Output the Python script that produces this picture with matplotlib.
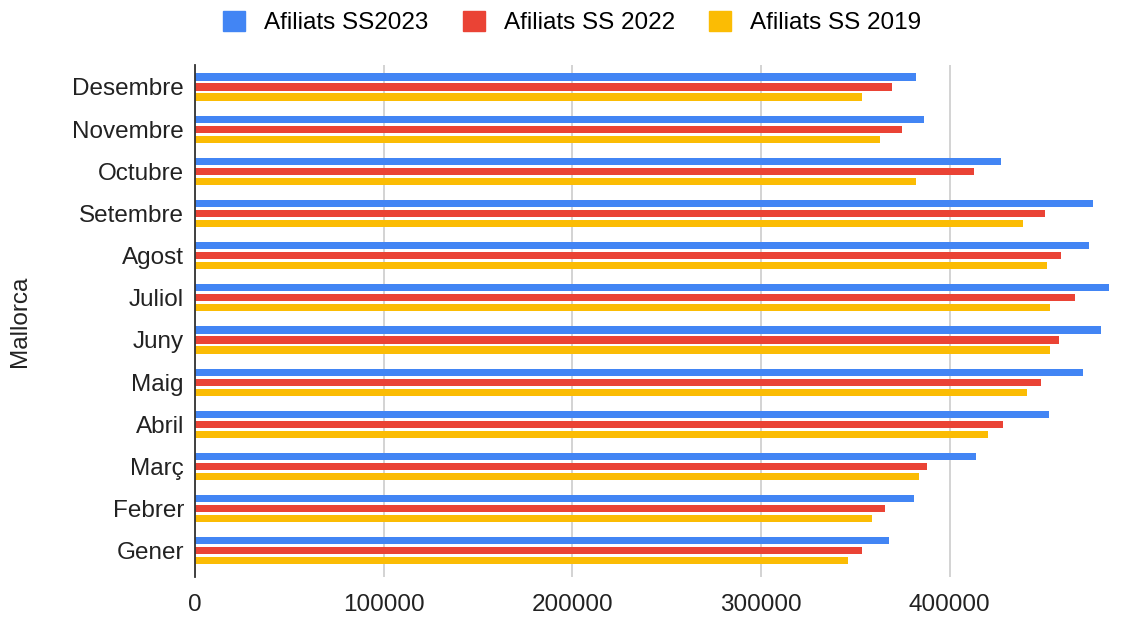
import numpy as np
import matplotlib
matplotlib.use('Agg')
import matplotlib.pyplot as plt
from matplotlib.patches import Patch

plt.rcParams['font.family'] = ['Liberation Sans', 'DejaVu Sans']

# dades (de Gener a Desembre)
mesos = ['Gener', 'Febrer', 'Març', 'Abril', 'Maig', 'Juny',
         'Juliol', 'Agost', 'Setembre', 'Octubre', 'Novembre', 'Desembre']
afiliats_2023 = [367700, 381300, 414200, 452500, 470600, 480400,
                 484500, 473800, 475900, 427000, 386600, 382400]
afiliats_2022 = [353300, 365600, 387800, 428100, 448300, 458000,
                 466400, 458800, 450300, 413000, 374700, 369200]
afiliats_2019 = [346000, 358800, 383600, 420500, 440900, 453400,
                 453400, 451400, 438700, 382400, 363000, 353300]

series = [
    ('Afiliats SS2023', afiliats_2023, '#4285F4'),
    ('Afiliats SS 2022', afiliats_2022, '#EA4335'),
    ('Afiliats SS 2019', afiliats_2019, '#FBBC04'),
]

fig = plt.figure(figsize=(11.31, 6.17), dpi=100)
ax = fig.add_axes([195 / 1131, 40 / 617, 915 / 1131, 512 / 617])

y = np.arange(len(mesos))
offsets = [0.237, 0, -0.237]
for (nom, vals, col), off in zip(series, offsets):
    ax.barh(y + off, vals, height=0.17, color=col, label=nom, zorder=3)

ax.set_ylim(-0.62, 11.52)
ax.set_xlim(0, 485000)
ax.set_xticks([0, 100000, 200000, 300000, 400000])
ax.set_yticks(y)
ax.set_yticklabels(mesos)
ax.tick_params(axis='both', length=0, labelsize=17.5, colors='#222222', pad=8)
ax.tick_params(axis='x', pad=12)
ax.grid(axis='x', color='#cccccc', linewidth=1.2, zorder=0)
for s in ['top', 'right', 'bottom']:
    ax.spines[s].set_visible(False)
ax.spines['left'].set_color('#333333')
ax.spines['left'].set_linewidth(1.3)
ax.spines['left'].set_zorder(4)

ax.set_ylabel('Mallorca', fontsize=17.5, color='#222222')
ax.yaxis.set_label_coords(-0.179, 0.5)

handles = [Patch(facecolor=c, edgecolor=c, label=n) for n, _, c in series]
fig.legend(handles=handles, loc='upper center', bbox_to_anchor=(0.506, 1.018),
           ncol=3, frameon=False, fontsize=17.5, handlelength=0.9,
           handleheight=0.9, handletextpad=0.8, columnspacing=1.4)

fig.savefig('out.png', dpi=100)
